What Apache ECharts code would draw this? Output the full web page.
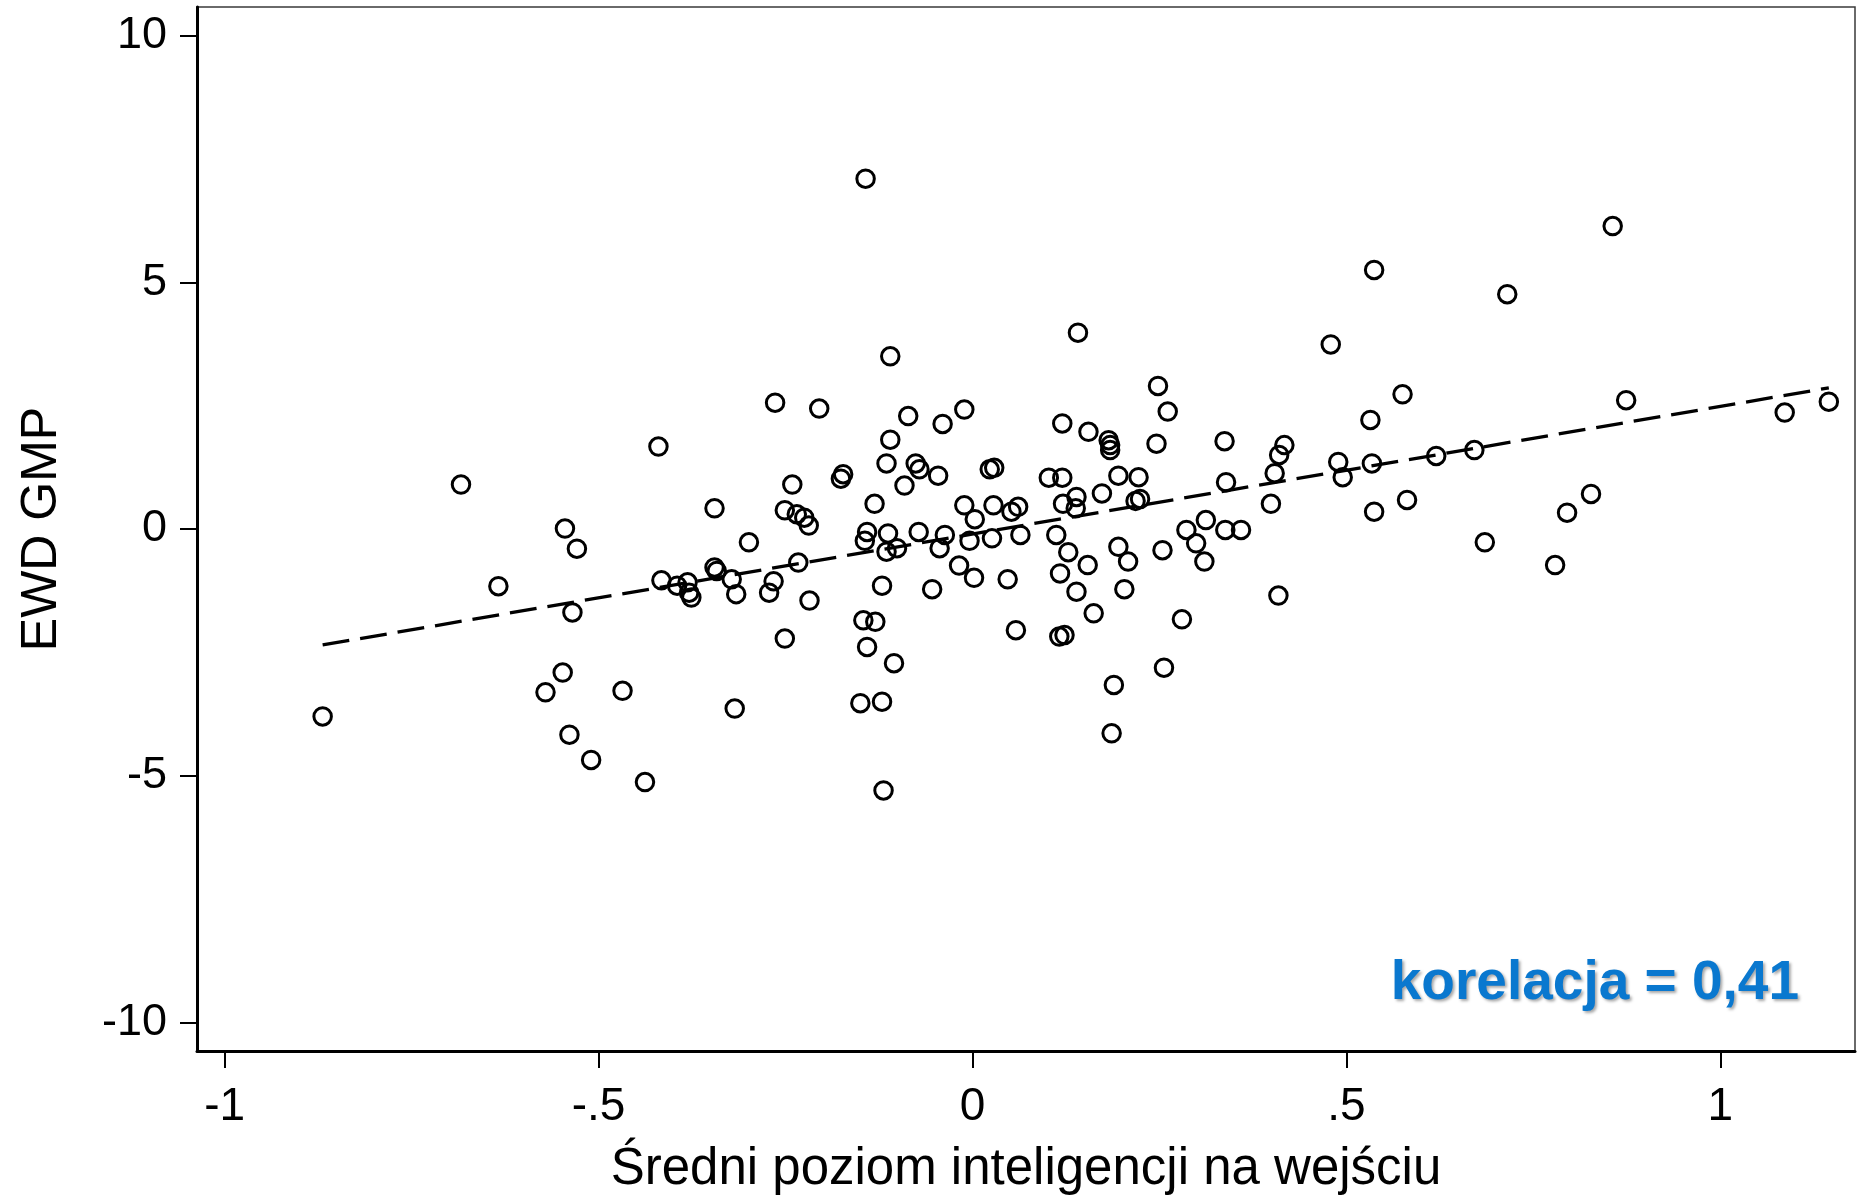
<!DOCTYPE html>
<html>
<head>
<meta charset="utf-8">
<script src="https://cdn.jsdelivr.net/npm/echarts@6/dist/echarts.min.js"></script>
<style>
html,body{margin:0;padding:0;background:#fff;}
#chart{width:1865px;height:1195px;}
</style>
</head>
<body>
<div id="chart"></div>
<script>
// Data
const xValues = [
 -0.869,-0.684,-0.634,-0.545,-0.529,-0.535,-0.571,-0.548,-0.539,-0.510,
 -0.468,-0.438,-0.420,-0.416,-0.395,-0.381,-0.379,-0.376,-0.345,-0.345,
 -0.342,-0.322,-0.316,-0.318,-0.299,-0.272,-0.266,-0.264,-0.251,-0.251,
 -0.241,-0.235,-0.233,-0.225,-0.219,-0.218,-0.205,-0.176,-0.173,-0.143,
 -0.141,-0.144,-0.146,-0.141,-0.150,-0.131,-0.130,-0.121,-0.121,-0.119,
 -0.115,-0.110,-0.110,-0.115,-0.113,-0.105,-0.101,-0.091,-0.086,-0.076,
 -0.071,-0.072,-0.054,-0.046,-0.040,-0.044,-0.037,-0.018,-0.011,-0.011,
 -0.004,0.002,0.003,0.023,0.029,0.026,0.028,0.047,0.052,0.061,
 0.058,0.064,0.102,0.112,0.120,0.120,0.121,0.117,0.116,0.123,
 0.128,0.139,0.139,0.138,0.141,0.155,0.154,0.162,0.173,0.182,
 0.184,0.184,0.189,0.186,0.195,0.195,0.203,0.208,0.218,0.224,
 0.222,0.246,0.248,0.254,0.256,0.261,0.280,0.286,0.299,0.310,
 0.312,0.337,0.339,0.338,0.359,0.399,0.404,0.410,0.417,0.409,
 0.479,0.489,0.495,0.532,0.534,0.537,0.537,0.575,0.581,0.620,
 0.671,0.685,0.715,0.779,0.795,0.827,0.856,0.874,1.086,1.145
];
const yValues = [
 -3.80,0.90,-1.16,0.01,-0.40,-1.69,-3.31,-2.91,-4.17,-4.68,
 -3.28,-5.13,1.67,-1.04,-1.15,-1.08,-1.29,-1.39,0.42,-0.78,
 -0.85,-1.02,-1.32,-3.64,-0.27,-1.29,-1.06,2.56,-2.22,0.38,
 0.90,0.30,-0.68,0.23,0.07,-1.45,2.44,1.02,1.11,7.10,
 -0.06,-0.24,-1.85,-2.39,-3.53,0.51,-1.88,-1.15,-3.50,-5.30,
 1.33,3.50,1.81,-0.46,-0.09,-2.72,-0.39,0.88,2.29,1.33,
 1.21,-0.06,-1.22,1.08,2.13,-0.39,-0.12,-0.74,2.42,0.48,
 -0.24,-0.99,0.20,1.21,1.24,-0.19,0.48,-1.02,0.35,0.45,
 -2.05,-0.12,1.04,-0.12,1.04,2.14,0.51,-0.90,-2.18,-2.15,
 -0.47,-1.27,0.65,0.42,3.98,1.97,-0.73,-1.71,0.72,1.80,
 1.70,1.60,-3.16,-4.14,1.08,-0.36,-1.22,-0.66,0.57,0.61,
 1.05,1.73,2.90,-0.43,-2.81,2.38,-1.83,-0.02,-0.29,-0.66,
 0.18,1.78,0.95,-0.02,-0.02,0.51,1.13,1.50,1.70,-1.35,
 3.74,1.36,1.05,2.21,1.33,0.35,5.25,2.73,0.59,1.48,
 1.60,-0.27,4.76,-0.73,0.33,0.71,6.14,2.61,2.36,2.58
];
// Fitted line endpoints
const fitX = [-0.869, 1.145];
const fitY = [-2.35, 2.86];

const xTicks = [-1, -0.5, 0, 0.5, 1];
const xTickLabels = ['-1', '-.5', '0', '.5', '1'];
const yTicks = [-10, -5, 0, 5, 10];
const yTickLabels = ['-10', '-5', '0', '5', '10'];

const xTitle = 'Średni poziom inteligencji na wejściu';
const yTitle = 'EWD GMP';
const note = 'korelacja = 0,41';

const points = xValues.map((x, i) => [x, yValues[i]]);
const fitLine = fitX.map((x, i) => [x, fitY[i]]);

const FONT = '"Liberation Sans", Arial, sans-serif';
const chart = echarts.init(document.getElementById('chart'), null, {renderer: 'canvas'});

const option = {
  animation: false,
  backgroundColor: '#ffffff',
  grid: {
    left: 197, right: 10, top: 7, bottom: 144,
    outerBoundsMode: 'none',
    containLabel: false,
    show: true, borderColor: '#3a3a3a', borderWidth: 1.5,
    backgroundColor: 'transparent'
  },
  xAxis: {
    type: 'value',
    min: -1.037, max: 1.18,
    name: xTitle,
    nameLocation: 'middle',
    nameGap: 93,
    nameTextStyle: {fontFamily: FONT, fontSize: 51, color: '#000'},
    axisLine: {show: true, onZero: false, lineStyle: {color: '#000', width: 3}},
    axisTick: {show: true, inside: false, length: 17, customValues: xTicks,
               lineStyle: {color: '#000', width: 2}},
    axisLabel: {
      customValues: xTicks,
      formatter: v => { const i = xTicks.findIndex(t => Math.abs(t - v) < 1e-9); return i >= 0 ? xTickLabels[i] : ''; },
      fontFamily: FONT, fontSize: 46, color: '#000', margin: 33
    },
    splitLine: {show: false}
  },
  yAxis: {
    type: 'value',
    min: -10.58, max: 10.58,
    name: yTitle,
    nameLocation: 'middle',
    nameGap: 130,
    nameTextStyle: {fontFamily: FONT, fontSize: 50, color: '#000'},
    axisLine: {show: true, onZero: false, lineStyle: {color: '#000', width: 3}},
    axisTick: {show: true, inside: false, length: 17, customValues: yTicks,
               lineStyle: {color: '#000', width: 2}},
    axisLabel: {
      customValues: yTicks,
      formatter: v => { const i = yTicks.findIndex(t => Math.abs(t - v) < 1e-9); return i >= 0 ? yTickLabels[i] : ''; },
      fontFamily: FONT, fontSize: 45, color: '#000', margin: 30
    },
    splitLine: {show: false}
  },
  series: [
    {
      type: 'line',
      data: fitLine,
      symbol: 'none',
      lineStyle: {color: '#000', width: 3.3, type: [27, 11]},
      z: 2
    },
    {
      type: 'scatter',
      data: points,
      symbol: 'circle',
      symbolSize: 17.5,
      itemStyle: {color: 'rgba(0,0,0,0)', borderColor: '#000', borderWidth: 3, opacity: 1},
      z: 3
    }
  ],
  graphic: [
    {
      type: 'text',
      x: 1799, y: 984,
      style: {
        text: note,
        align: 'right', verticalAlign: 'middle',
        fontFamily: FONT, fontWeight: 'bold', fontSize: 55,
        fill: '#0a78cf',
        textShadowColor: 'rgba(0,0,0,0.35)', textShadowBlur: 3,
        textShadowOffsetX: 2, textShadowOffsetY: 2
      },
      z: 10
    }
  ]
};
chart.setOption(option);
</script>
</body>
</html>
